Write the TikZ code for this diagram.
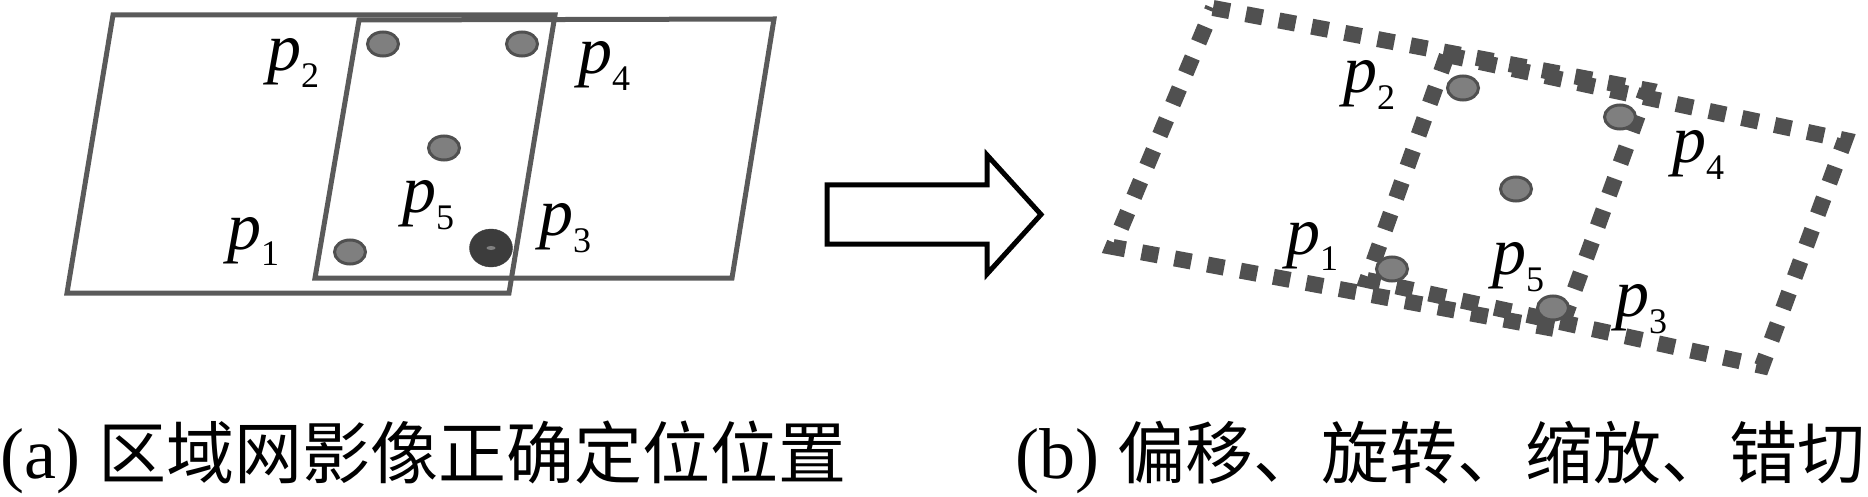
\documentclass[tikz,border=0pt]{standalone}
\usepackage{fontspec}
\setmainfont{Liberation Serif}
\newfontfamily\cjk{Noto Sans CJK SC}
\usetikzlibrary{shapes.geometric}
\definecolor{quadgray}{HTML}{5A5A5A}
\definecolor{dashgray}{HTML}{505050}
\definecolor{dotfill}{HTML}{7F7F7F}
\definecolor{dotedge}{HTML}{505050}
\definecolor{bigdot}{HTML}{3C3C3C}
\newcommand{\plab}[1]{\textit{p}\raisebox{-17pt}{\fontsize{36}{36}\selectfont #1}}
\tikzset{
  quadline/.style={draw=quadgray, line width=5pt, line join=miter},
  dashquad/.style={draw=dashgray, line width=16pt, dash pattern=on 17pt off 16.5pt, line cap=butt},
  gdot/.style={ellipse, draw=dotedge, line width=3pt, fill=dotfill, minimum width=31pt, minimum height=24pt, inner sep=0pt},
  plabel/.style={anchor=base west, inner sep=0pt, font=\fontsize{68}{68}\selectfont},
  caption/.style={inner sep=0pt, font=\fontsize{72}{72}\selectfont},
  bigarrow/.style={draw=black, line width=5pt, line join=miter, fill=white}
}
\begin{document}
\begin{tikzpicture}[x=1pt, y=-1pt]
\useasboundingbox (0,0) rectangle (1868,497);
% ---- panel (a) ----
\draw[quadline] (113,15) -- (555,15) -- (509,293) -- (67,293) -- cycle;
\draw[quadline] (359,20) -- (774,19) -- (732,278) -- (315,278) -- cycle;
\node[gdot] (a2) at (383,44) {};
\node[gdot] (a4) at (522,44) {};
\node[gdot] (a5) at (444,148) {};
\node[gdot] (a1) at (350,252) {};
\node[ellipse, fill=bigdot, draw=bigdot, minimum width=43pt, minimum height=38pt, inner sep=0pt] (a3) at (491,248) {};
\node[ellipse, fill=gray, minimum width=9pt, minimum height=4pt, inner sep=0pt] (a3c) at (a3.center) {};
\node[plabel] (la2) at (267,71) {\plab{2}};
\node[plabel] (la4) at (578,74) {\plab{4}};
\node[plabel] (la5) at (402,213) {\plab{5}};
\node[plabel] (la1) at (227,249) {\plab{1}};
\node[plabel] (la3) at (539,236) {\plab{3}};
% ---- arrow ----
\draw[bigarrow] (827,185) -- (987,185) -- (987,155) -- (1041,214.5) -- (987,274) -- (987,244) -- (827,244) -- cycle;
% ---- panel (b) ----
\draw[dashquad] (1213,8) -- (1647,90) -- (1560,330) -- (1113,247) -- cycle;
\draw[dashquad] (1447,55) -- (1845,140) -- (1762,366) -- (1367,280) -- cycle;
\node[gdot] (b2) at (1463,88) {};
\node[gdot] (b4) at (1620,117) {};
\node[gdot] (b5) at (1516,189) {};
\node[gdot] (b1) at (1392,269) {};
\node[gdot] (b3) at (1553,308) {};
\node[plabel] (lb2) at (1343,93) {\plab{2}};
\node[plabel] (lb4) at (1672,163) {\plab{4}};
\node[plabel] (lb1) at (1286,254) {\plab{1}};
\node[plabel] (lb5) at (1492,274) {\plab{5}};
\node[plabel] (lb3) at (1615,316) {\plab{3}};
% ---- captions ----
\node[caption, anchor=base west] (capa) at (0,478) {(a) {\cjk\fontsize{68}{68}\selectfont 区域网影像正确定位位置}};
\node[caption, anchor=base east] (capb) at (1866,478) {(b) {\cjk\fontsize{68}{68}\selectfont 偏移、旋转、缩放、错切}};
\end{tikzpicture}
\end{document}
